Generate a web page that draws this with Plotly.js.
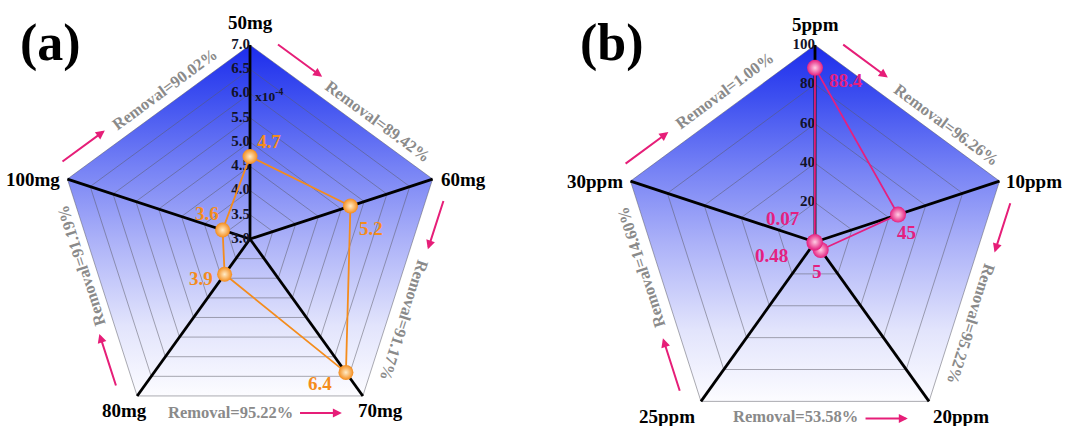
<!DOCTYPE html>
<html>
<head>
<meta charset="utf-8">
<script src="https://cdn.plot.ly/plotly-3.0.1.min.js"></script>
<style>
  html, body { margin: 0; padding: 0; background: #ffffff; }
  #chart { width: 1067px; height: 426px; }
</style>
</head>
<body>
<div id="chart"></div>
<script>
// ---- Panel (a): adsorbent dosage (values in units of 10^-4) ----
const dosageLabels  = ['50mg', '60mg', '70mg', '80mg', '100mg'];
const dosageValues  = [4.7, 5.2, 6.4, 3.9, 3.6];
const dosageTicks   = [3.0, 3.5, 4.0, 4.5, 5.0, 5.5, 6.0, 6.5, 7.0];
const dosageTickText = ['3.0', '3.5', '4.0', '4.5', '5.0', '5.5', '6.0', '6.5', '7.0'];
const dosageRemoval = ['Removal=89.42%', 'Removal=91.17%', 'Removal=95.22%', 'Removal=91.19%', 'Removal=90.02%'];

// ---- Panel (b): initial concentration ----
const concLabels  = ['5ppm', '10ppm', '20ppm', '25ppm', '30ppm'];
const concValues  = [88.4, 45, 5, 0.48, 0.07];
const concTicks   = [0, 20, 40, 60, 80, 100];
const concTickText = ['0', '20', '40', '60', '80', '100'];
const concRemoval = ['Removal=96.26%', 'Removal=95.22%', 'Removal=53.58%', 'Removal=14.60%', 'Removal=1.00%'];

const W = 1067, H = 426;
const DEG = Math.PI / 180;
const SERIF = 'Liberation Serif, Times New Roman, serif';
const ARROW = 'rgb(230,30,120)';

const panels = [
  {
    letter: '(a)', letterPos: [50, 43],
    labels: dosageLabels, values: dosageValues, ticks: dosageTicks, tickText: dosageTickText,
    removal: dosageRemoval, exponent: 'x10<sup>-4</sup>', exponentAt: 6.0,
    cx: 250, cy: 239, rx: 192, ry: 194, domain: [0, 0.5],
    color: 'rgb(244,140,28)', glow: 'rgb(255,236,200)', markerSize: 15,
    valueShift: [[19, -15], [21, 22], [-26, 11], [-24, 4], [-16, -17]],
    catShift: [[0, -23, 'center'], [6, 0, 'left'], [18, 15, 'center'], [-13, 15, 'center'], [-5, 0, 'right']],
    remT: [0.655, 0.63, 0.587, 0.619, 0.58], remOut: [14, 16, 17, 13, 15]
  },
  {
    letter: '(b)', letterPos: [612, 43],
    labels: concLabels, values: concValues, ticks: concTicks, tickText: concTickText,
    removal: concRemoval, exponent: null,
    cx: 815, cy: 242, rx: 194, ry: 197, domain: [0.5, 1],
    color: 'rgb(228,32,128)', glow: 'rgb(255,205,228)', markerSize: 16,
    valueShift: [[31, 13], [8, 18], [-4, 22], [-43, 13], [-32, -23]],
    catShift: [[0, -21, 'center'], [4, 0, 'left'], [32, 15, 'center'], [-34, 15, 'center'], [-6, 0, 'right']],
    remT: [0.665, 0.626, 0.586, 0.63, 0.565], remOut: [14, 16, 15, 16, 17]
  }
];

// arrow placement along each edge: [tail, head] as fraction of the edge
const arrowT = [[0.09, 0.34], [0.07, 0.30], [0.285, 0.093], [0.065, 0.31], [0.02, 0.26]];
const arrowOut = 17;

const traces = [];
const annotations = [];
const layout = {
  width: W, height: H,
  margin: { l: 0, r: 0, t: 0, b: 0 },
  paper_bgcolor: '#ffffff', plot_bgcolor: 'rgba(0,0,0,0)',
  showlegend: false,
  annotations: annotations
};

panels.forEach((p, idx) => {
  const sfx = idx === 0 ? '' : '2';
  const xa = 'x' + sfx, ya = 'y' + sfx;
  const n = p.labels.length;
  const r0 = p.ticks[0], r1 = p.ticks[p.ticks.length - 1];
  const norm = v => (v - r0) / (r1 - r0);
  // unit-radius coordinates, categories run clockwise from the top
  const pt = (i, rn) => [rn * Math.sin(i * 360 / n * DEG), rn * Math.cos(i * 360 / n * DEG)];
  const toPx = ([ux, uy]) => [p.cx + ux * p.rx, p.cy - uy * p.ry];
  const toData = ([px, py]) => [(px - p.cx) / p.rx, (p.cy - py) / p.ry];

  layout['xaxis' + sfx] = {
    domain: p.domain, anchor: ya, visible: false, fixedrange: true,
    range: [(p.domain[0] * W - p.cx) / p.rx, (p.domain[1] * W - p.cx) / p.rx]
  };
  layout['yaxis' + sfx] = {
    domain: [0, 1], anchor: xa, visible: false, fixedrange: true,
    range: [-(H - p.cy) / p.ry, p.cy / p.ry]
  };

  const ring = rn => {
    const xs = [], ys = [];
    for (let i = 0; i <= n; i++) { const q = pt(i % n, rn); xs.push(q[0]); ys.push(q[1]); }
    return [xs, ys];
  };

  // gradient-filled outer pentagon
  const outer = ring(1);
  traces.push({
    type: 'scatter', mode: 'lines', xaxis: xa, yaxis: ya,
    x: outer[0], y: outer[1], fill: 'toself',
    line: { width: 0, color: 'rgba(0,0,0,0)' },
    fillgradient: {
      type: 'vertical',
      colorscale: [
        [0, 'rgb(252,252,255)'], [0.2, 'rgb(226,228,252)'], [0.45, 'rgb(170,176,248)'],
        [0.65, 'rgb(118,130,245)'], [0.85, 'rgb(62,80,240)'], [1, 'rgb(28,44,236)']
      ]
    },
    hoverinfo: 'skip'
  });

  // concentric grid pentagons
  const gx = [], gy = [];
  p.ticks.forEach(t => {
    const rn = norm(t);
    if (rn <= 0) return;
    const r = ring(rn);
    gx.push(...r[0], null); gy.push(...r[1], null);
  });
  traces.push({
    type: 'scatter', mode: 'lines', xaxis: xa, yaxis: ya, x: gx, y: gy,
    line: { color: 'rgba(90,90,100,0.5)', width: 1 }, hoverinfo: 'skip'
  });

  // spokes
  const sx = [], sy = [];
  for (let i = 0; i < n; i++) { const q = pt(i, 1); sx.push(0, q[0], null); sy.push(0, q[1], null); }
  traces.push({
    type: 'scatter', mode: 'lines', xaxis: xa, yaxis: ya, x: sx, y: sy,
    line: { color: '#000000', width: 2.8 }, hoverinfo: 'skip'
  });

  // radial tick labels along the top spoke
  traces.push({
    type: 'scatter', mode: 'text', xaxis: xa, yaxis: ya,
    x: p.ticks.map(() => 0), y: p.ticks.map(t => norm(t)),
    text: p.tickText, textposition: 'middle left', cliponaxis: false,
    textfont: { family: SERIF, size: 15, weight: 'bold', color: 'rgb(18,18,40)' },
    hoverinfo: 'skip'
  });

  // data polygon
  const dx = [], dy = [];
  p.values.forEach((v, i) => { const q = pt(i, norm(v)); dx.push(q[0]); dy.push(q[1]); });
  traces.push({
    type: 'scatter', mode: 'lines', xaxis: xa, yaxis: ya,
    x: dx.concat([dx[0]]), y: dy.concat([dy[0]]),
    line: { color: p.color, width: 1.8 }, hoverinfo: 'skip'
  });
  traces.push({
    type: 'scatter', mode: 'markers', xaxis: xa, yaxis: ya, x: dx, y: dy, cliponaxis: false,
    marker: { size: p.markerSize, color: p.color, gradient: { type: 'radial', color: p.glow }, line: { width: 0 } },
    hoverinfo: 'skip'
  });

  // value labels
  p.values.forEach((v, i) => {
    annotations.push({
      xref: xa, yref: ya, x: dx[i], y: dy[i], text: String(v), showarrow: false,
      xanchor: 'center', yanchor: 'middle',
      xshift: p.valueShift[i][0], yshift: -p.valueShift[i][1],
      font: { family: SERIF, size: 19, weight: 'bold', color: p.color }
    });
  });

  // category labels at the outer vertices
  p.labels.forEach((lab, i) => {
    const q = pt(i, 1);
    const s = p.catShift[i];
    annotations.push({
      xref: xa, yref: ya, x: q[0], y: q[1], text: lab, showarrow: false,
      xanchor: s[2], yanchor: 'middle', xshift: s[0], yshift: -s[1],
      font: { family: SERIF, size: 19, weight: 'bold', color: '#000000' }
    });
  });

  // removal text and direction arrows along each edge
  for (let i = 0; i < n; i++) {
    const a = toPx(pt(i, 1)), b = toPx(pt((i + 1) % n, 1));
    const ex = b[0] - a[0], ey = b[1] - a[1];
    const L = Math.hypot(ex, ey);
    const nx = ey / L, ny = -ex / L;
    const at = (t, off) => toData([a[0] + ex * t + nx * off, a[1] + ey * t + ny * off]);

    let ang = Math.atan2(ey, ex) / DEG;
    if (ang > 135) ang -= 180;
    if (ang < -135) ang += 180;
    const c = at(p.remT[i], p.remOut[i]);
    annotations.push({
      xref: xa, yref: ya, x: c[0], y: c[1], text: p.removal[i], showarrow: false,
      xanchor: 'center', yanchor: 'middle', textangle: ang,
      font: { family: SERIF, size: 16.5, weight: 'bold', color: 'rgb(138,138,138)' }
    });

    const tail = at(arrowT[i][0], arrowOut), head = at(arrowT[i][1], arrowOut);
    annotations.push({
      xref: xa, yref: ya, axref: xa, ayref: ya,
      x: head[0], y: head[1], ax: tail[0], ay: tail[1], text: '',
      showarrow: true, arrowhead: 2, arrowsize: 0.9, arrowwidth: 2, arrowcolor: ARROW, standoff: 0
    });
  }

  // axis multiplier
  if (p.exponent) {
    annotations.push({
      xref: xa, yref: ya, x: 0, y: norm(p.exponentAt), text: p.exponent, showarrow: false,
      xanchor: 'left', yanchor: 'middle', xshift: 3, yshift: -2,
      font: { family: SERIF, size: 13.5, weight: 'bold', color: 'rgb(18,18,40)' }
    });
  }

  // panel letter
  annotations.push({
    xref: 'paper', yref: 'paper', x: p.letterPos[0] / W, y: 1 - p.letterPos[1] / H,
    text: p.letter, showarrow: false, xanchor: 'center', yanchor: 'middle',
    font: { family: SERIF, size: 52, weight: 'bold', color: '#000000' }
  });
});

Plotly.newPlot('chart', traces, layout, { staticPlot: true, displayModeBar: false });
</script>
</body>
</html>
